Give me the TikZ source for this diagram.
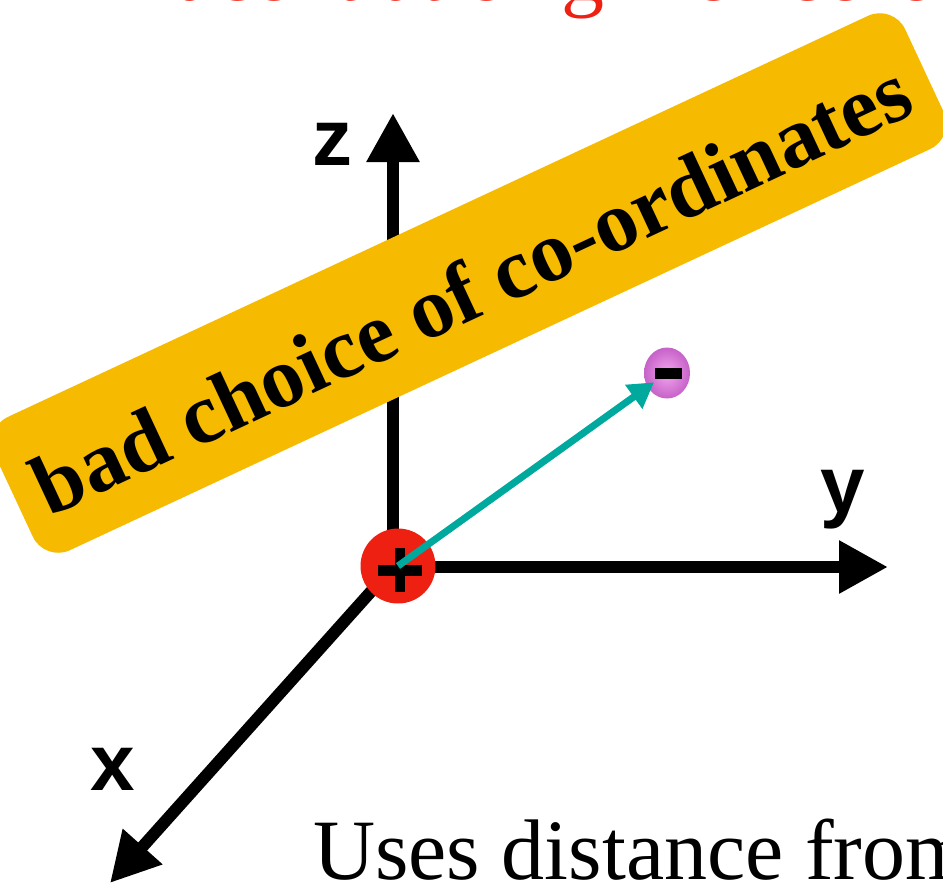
\documentclass[tikz,border=0pt]{standalone}
\usepackage{fontspec}
\setmainfont{Liberation Serif}
\newfontfamily\labelfont{Liberation Sans}
\usepackage{tikz}
\usetikzlibrary{arrows.meta,shapes.geometric,positioning}
\definecolor{chargered}{RGB}{237,32,18}
\definecolor{bandyellow}{RGB}{246,186,0}
\definecolor{dipoleteal}{RGB}{0,169,157}
\definecolor{neginner}{RGB}{242,165,238}
\definecolor{negouter}{RGB}{198,98,200}

\begin{document}
\begin{tikzpicture}[x=1pt, y=-1pt,
  axis/.style={line width=12pt, -{Triangle[length=49pt,width=50pt]}},
  axlabel/.style={inner sep=0pt, anchor=base, font=\labelfont\bfseries\fontsize{80}{80}\selectfont},
  band/.style={fill=bandyellow, rounded corners=28pt, minimum width=1005pt, minimum height=147pt, inner sep=0pt, text height=70pt, text depth=0pt, font=\bfseries\fontsize{86}{86}\selectfont},
  poscharge/.style={circle, fill=chargered, minimum size=75pt, inner sep=0pt,
    path picture={\fill[black] ([xshift=-20pt,yshift=-9.5pt]path picture bounding box.center) rectangle ([xshift=24pt,yshift=1.5pt]path picture bounding box.center);
                  \fill[black] ([xshift=-3pt,yshift=-26pt]path picture bounding box.center) rectangle ([xshift=7pt,yshift=18pt]path picture bounding box.center);}},
  negcharge/.style={ellipse, inner color=neginner, outer color=negouter, minimum width=46pt, minimum height=51pt, inner sep=0pt,
    path picture={\fill[black] ([xshift=-12.5pt,yshift=-5.5pt]path picture bounding box.center) rectangle ([xshift=14.5pt,yshift=5.5pt]path picture bounding box.center);}},
  dipole/.style={draw=dipoleteal, line width=7pt, -{Triangle[length=25pt,width=28pt]}},
  bigtext/.style={inner sep=0pt, anchor=base west, font=\fontsize{86}{86}\selectfont}]
\useasboundingbox (0,0) rectangle (943,884);
\clip (0,0) rectangle (943,884);
% axes
\coordinate (O) at (393,567);
\coordinate (ztip) at (393,113);
\coordinate (ytip) at (888,567);
\coordinate (xtip) at (110,883);
\draw[axis] (O) -- (ztip);
\draw[axis] (O) -- (ytip);
\draw[axis] (O) -- (xtip);
\node[axlabel] (zlab) at (332,165) {z};
\node[axlabel] (ylab) at (843,512) {y};
\node[axlabel] (xlab) at (113,790) {x};
% label band
\node[band, rotate=25] (badchoice) at (469,283) {bad choice of co-ordinates};
% charges
\node[poscharge] (pos) at (398,566) {};
\node[negcharge] (neg) at (667,373) {};
\draw[dipole, shorten >=16pt] (pos.center) -- (neg.center);
% texts cut by the page
\node[bigtext, text=chargered] (heading) at (105,0) {Place it at origin of co-ordinates};
\node[bigtext] (uses) at (313,879) {Uses distance from};
\end{tikzpicture}
\end{document}
